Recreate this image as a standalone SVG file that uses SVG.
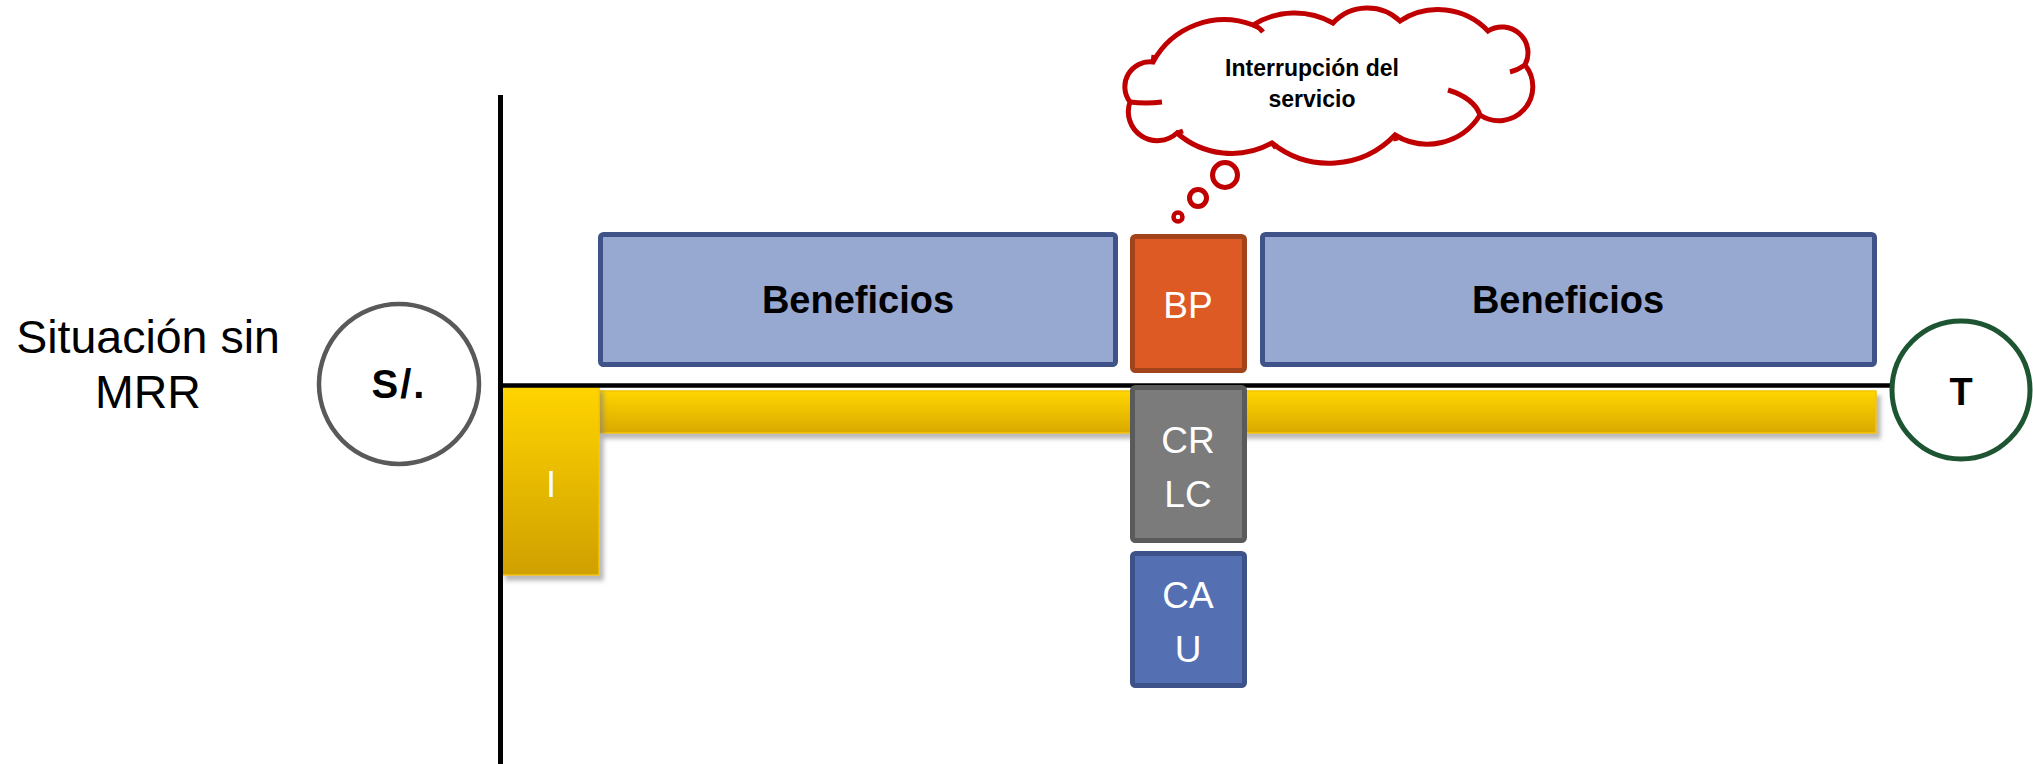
<svg xmlns="http://www.w3.org/2000/svg" width="2033" height="764" viewBox="0 0 2033 764">
  <style>
    .lbl { font-family: "Liberation Sans", Arial, sans-serif; }
    .title { font-size: 46.5px; fill: #000; text-anchor: middle; }
    .bold { font-weight: bold; fill: #000; text-anchor: middle; }
    .white { font-size: 37px; fill: #fff; text-anchor: middle; }
    .benef { fill: #97A8D1; stroke: #3F5389; stroke-width: 5; }
    .cloud { fill: none; stroke: #C00000; stroke-width: 5; stroke-linecap: butt; }
  </style>
  <defs>
    <linearGradient id="gold" x1="0" y1="0" x2="0" y2="1">
      <stop offset="0" stop-color="#FFD400"/>
      <stop offset="1" stop-color="#CFA000"/>
    </linearGradient>
    <linearGradient id="goldBar" x1="0" y1="0" x2="0" y2="1">
      <stop offset="0" stop-color="#FFD500"/>
      <stop offset="1" stop-color="#D9A900"/>
    </linearGradient>
    <filter id="shadow" x="-10%" y="-10%" width="130%" height="140%">
      <feGaussianBlur in="SourceAlpha" stdDeviation="2"/>
      <feOffset dx="4" dy="5" result="off"/>
      <feFlood flood-color="#7F7F7F" flood-opacity="0.55"/>
      <feComposite in2="off" operator="in"/>
      <feMerge>
        <feMergeNode/>
        <feMergeNode in="SourceGraphic"/>
      </feMerge>
    </filter>
  </defs>

  <rect width="2033" height="764" fill="#fff"/>

  <!-- caption -->
  <g id="caption">
    <text class="lbl title" x="148" y="353">Situación sin</text>
    <text class="lbl title" x="148" y="408">MRR</text>
  </g>

  <!-- start value marker -->
  <g id="node-start">
    <circle cx="399" cy="384" r="80" fill="#fff" stroke="#595959" stroke-width="4.5"/>
    <text class="lbl bold" x="399" y="398" font-size="40" letter-spacing="2">S/.</text>
  </g>

  <!-- cash-flow bar and investment block -->
  <g id="node-flow" filter="url(#shadow)">
    <rect x="599" y="391" width="1277" height="42" fill="url(#goldBar)" stroke="#F4C400" stroke-width="1.5"/>
  </g>
  <g id="node-investment" filter="url(#shadow)">
    <rect x="502" y="387" width="97" height="188" fill="url(#gold)" stroke="#F4C400" stroke-width="1.5"/>
    <text class="lbl white" x="551" y="497">I</text>
  </g>

  <!-- time axes -->
  <g id="connectors" stroke="#000" fill="none">
    <line x1="500.5" y1="95" x2="500.5" y2="764" stroke-width="5"/>
    <line x1="498" y1="385.5" x2="1892" y2="385.5" stroke-width="4.5"/>
  </g>

  <!-- benefits -->
  <g id="node-benefits-1">
    <rect class="benef" x="600.5" y="234.5" width="515" height="130" rx="3"/>
    <text class="lbl bold" x="858" y="313" font-size="38">Beneficios</text>
  </g>
  <g id="node-benefits-2">
    <rect class="benef" x="1262.5" y="234.5" width="612" height="130" rx="3"/>
    <text class="lbl bold" x="1568" y="313" font-size="38">Beneficios</text>
  </g>

  <!-- lost benefits during outage -->
  <g id="node-bp">
    <rect x="1132.5" y="236.5" width="112" height="134" rx="3" fill="#DE5A24" stroke="#A3431B" stroke-width="5"/>
    <text class="lbl white" x="1188" y="318">BP</text>
  </g>

  <!-- rehabilitation costs -->
  <g id="node-crlc">
    <rect x="1132.5" y="387.5" width="112" height="153" rx="3" fill="#7B7B7B" stroke="#5A5A5A" stroke-width="5"/>
    <text class="lbl white" x="1188" y="453">CR</text>
    <text class="lbl white" x="1188" y="507">LC</text>
  </g>

  <!-- user costs -->
  <g id="node-cau">
    <rect x="1132.5" y="553.5" width="112" height="132" rx="3" fill="#5470B3" stroke="#3C5288" stroke-width="5"/>
    <text class="lbl white" x="1188" y="608">CA</text>
    <text class="lbl white" x="1188" y="662">U</text>
  </g>

  <!-- horizon marker -->
  <g id="node-end">
    <circle cx="1961" cy="390" r="69" fill="#fff" stroke="#1D5532" stroke-width="5"/>
    <text class="lbl bold" x="1961" y="405" font-size="38">T</text>
  </g>

  <!-- thought cloud -->
  <g id="node-cloud">
    <path d="M1153 62 A81 81 0 0 1 1253 25 A78 78 0 0 1 1333 23 A47 47 0 0 1 1400 21 A69 69 0 0 1 1488 31 A26 26 0 0 1 1525 65 A34 34 0 0 1 1480 115 A62 62 0 0 1 1395 135 A91 91 0 0 1 1272 143 A83 83 0 0 1 1177 133 A29 29 0 0 1 1130 102 A25 25 0 0 1 1153 62 Z" fill="#fff" stroke="#C00000" stroke-width="5"/>
    <path class="cloud" d="M1448 90 Q1474 98 1480 115"/>
    <path class="cloud" d="M1130 102 Q1146 104 1162 102"/>
    <path class="cloud" d="M1253 25 Q1259 27 1263 32"/>
    <path class="cloud" d="M1525 65 Q1518 70 1510 72"/>
    <path class="cloud" d="M1153 62 L1154 55"/>
    <path class="cloud" d="M1395 135 L1396 141"/>
    <path class="cloud" d="M1272 143 L1276 148"/>
    <path class="cloud" d="M1177 133 L1183 131"/>
    <circle cx="1225" cy="175" r="12.5" fill="#fff" stroke="#C00000" stroke-width="5"/>
    <circle cx="1198" cy="198" r="8.5" fill="#fff" stroke="#C00000" stroke-width="5"/>
    <circle cx="1178" cy="217" r="4.5" fill="#fff" stroke="#C00000" stroke-width="4.5"/>
    <text class="lbl bold" x="1312" y="76" font-size="23">Interrupción del</text>
    <text class="lbl bold" x="1312" y="107" font-size="23">servicio</text>
  </g>
</svg>
